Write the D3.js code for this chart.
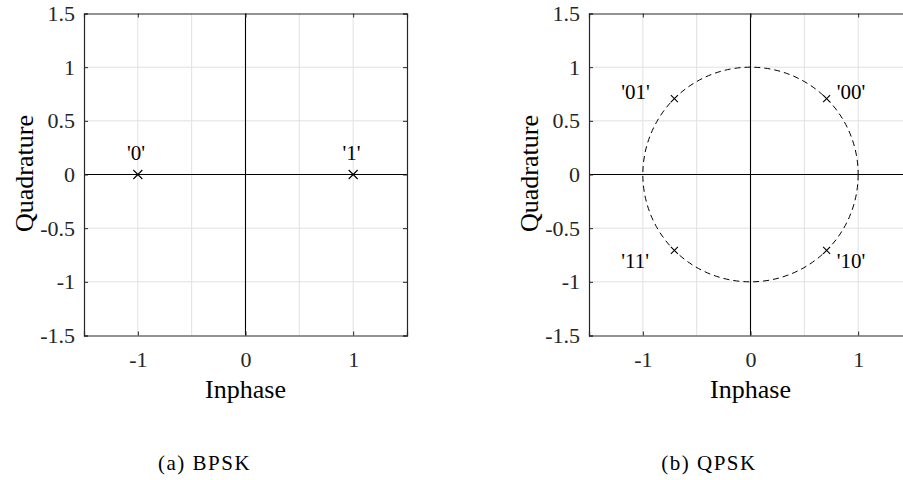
<!DOCTYPE html>
<html>
<head>
<meta charset="utf-8">
<script src="https://cdn.jsdelivr.net/npm/d3@7"></script>
</head>
<body style="margin:0;background:#fff">
<script>
// axis ticks
var yTicks = [-1.5, -1, -0.5, 0, 0.5, 1, 1.5];
var xTicks = [-1, 0, 1];
var gridTicks = [-1, -0.5, 0, 0.5, 1];

// BPSK constellation
var bpskI = [-1, 1];
var bpskQ = [0, 0];
var bpskLabels = ["'0'", "'1'"];
var bpskLabelI = [-1.1, 0.9];
var bpskLabelQ = [0.2, 0.2];

// QPSK constellation
var qpskI = [0.707, -0.707, -0.707, 0.707];
var qpskQ = [0.707, 0.707, -0.707, -0.707];
var qpskLabels = ["'00'", "'01'", "'11'", "'10'"];
var qpskLabelI = [0.8, -1.2, -1.2, 0.8];
var qpskLabelQ = [0.77, 0.77, -0.8, -0.8];
var circleRadius = 1;

var captions = ["(a) BPSK", "(b) QPSK"];

var SERIF = "'Liberation Serif', 'Times New Roman', serif";

var svg = d3.select("body").append("svg")
    .attr("width", 903)
    .attr("height", 480)
    .style("display", "block");

var w = 323, h = 322;

function panel(left, top, I, Q, labels, labI, labQ, markSize, withCircle, caption, capX) {
  var x = d3.scaleLinear().domain([-1.5, 1.5]).range([0, w]);
  var y = d3.scaleLinear().domain([-1.5, 1.5]).range([h, 0]);

  var g = svg.append("g")
      .attr("transform", "translate(" + left + "," + top + ")");

  // grid
  g.selectAll(".gx").data(gridTicks).enter().append("line")
      .attr("x1", function(d) { return x(d); }).attr("x2", function(d) { return x(d); })
      .attr("y1", 0).attr("y2", h)
      .attr("stroke", "#e0e0e0").attr("stroke-width", 1);
  g.selectAll(".gy").data(gridTicks).enter().append("line")
      .attr("y1", function(d) { return y(d); }).attr("y2", function(d) { return y(d); })
      .attr("x1", 0).attr("x2", w)
      .attr("stroke", "#e0e0e0").attr("stroke-width", 1);

  // zero lines
  g.append("line").attr("x1", x(0)).attr("x2", x(0)).attr("y1", 0).attr("y2", h)
      .attr("stroke", "#000").attr("stroke-width", 1.1);
  g.append("line").attr("x1", 0).attr("x2", w).attr("y1", y(0)).attr("y2", y(0))
      .attr("stroke", "#000").attr("stroke-width", 1.1);

  // axes (inward ticks on every side)
  var axB = g.append("g").attr("transform", "translate(0," + h + ")")
      .call(d3.axisBottom(x).tickValues(xTicks).tickSize(-4).tickPadding(15).tickFormat(function(d) { return String(d); }));
  var axT = g.append("g")
      .call(d3.axisTop(x).tickValues(xTicks).tickSize(-4).tickFormat(""));
  var axL = g.append("g")
      .call(d3.axisLeft(y).tickValues(yTicks).tickSize(-4).tickPadding(9).tickFormat(function(d) { return String(d); }));
  var axR = g.append("g").attr("transform", "translate(" + w + ",0)")
      .call(d3.axisRight(y).tickValues(yTicks).tickSize(-4).tickFormat(""));

  [axB, axT, axL, axR].forEach(function(a) {
    a.attr("font-family", null).attr("font-size", null);
    a.select(".domain").attr("stroke", "#262626").attr("stroke-width", 1.2);
    a.selectAll(".tick line").attr("stroke", "#262626");
    a.selectAll("text").attr("fill", "#262626")
        .style("font-family", SERIF).style("font-size", "22px");
  });
  axB.selectAll("text").attr("dy", "0.75em");

  // reference circle
  if (withCircle) {
    g.append("ellipse")
        .attr("cx", x(0)).attr("cy", y(0))
        .attr("rx", x(circleRadius) - x(0)).attr("ry", y(0) - y(circleRadius))
        .attr("fill", "none").attr("stroke", "#000").attr("stroke-width", 1)
        .attr("stroke-dasharray", "6,4");
  }

  // x markers
  var s = markSize / 2;
  g.selectAll(".mk").data(I).enter().append("path")
      .attr("d", function(d, i) {
        var px = x(d), py = y(Q[i]);
        return "M" + (px - s) + "," + (py - s) + "L" + (px + s) + "," + (py + s) +
               "M" + (px - s) + "," + (py + s) + "L" + (px + s) + "," + (py - s);
      })
      .attr("stroke", "#000").attr("stroke-width", 1.1).attr("fill", "none");

  // symbol labels
  g.selectAll(".lb").data(labels).enter().append("text")
      .attr("x", function(d, i) { return x(labI[i]); })
      .attr("y", function(d, i) { return y(labQ[i]); })
      .attr("dy", "0.35em")
      .style("font-family", SERIF).style("font-size", "21px")
      .attr("fill", "#000")
      .text(function(d) { return d; });

  // axis titles
  g.append("text")
      .attr("x", w / 2).attr("y", h + 62)
      .attr("text-anchor", "middle")
      .style("font-family", SERIF).style("font-size", "26px")
      .attr("fill", "#000")
      .text("Inphase");
  g.append("text")
      .attr("transform", "translate(-51," + (h / 2 - 1) + ") rotate(-90)")
      .attr("text-anchor", "middle")
      .style("font-family", SERIF).style("font-size", "26px")
      .attr("fill", "#000")
      .text("Quadrature");

  // caption
  svg.append("text")
      .attr("x", capX).attr("y", 470)
      .attr("text-anchor", "middle")
      .style("font-family", SERIF).style("font-size", "21px")
      .style("letter-spacing", "1.5px")
      .attr("fill", "#000")
      .text(caption);
}

panel(84, 13.5, bpskI, bpskQ, bpskLabels, bpskLabelI, bpskLabelQ, 9, false, captions[0], 204.5);
panel(589, 13.5, qpskI, qpskQ, qpskLabels, qpskLabelI, qpskLabelQ, 7, true, captions[1], 709);
</script>
</body>
</html>
